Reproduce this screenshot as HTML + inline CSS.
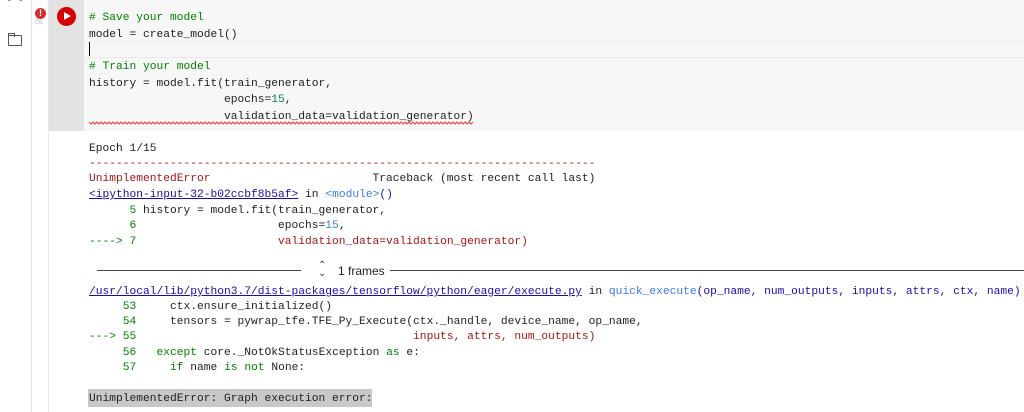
<!DOCTYPE html>
<html><head><meta charset="utf-8"><style>
body{margin:0;width:1024px;height:412px;overflow:hidden;background:#fff;position:relative;font-family:"Liberation Mono",monospace;}
.ab{position:absolute;}
.t{position:absolute;left:89px;font-size:11.25px;white-space:pre;line-height:16px;margin-top:2px;}
.g{color:#008000}.n{color:#098658}.r{color:#a31515}.k{color:#212121}.b{color:#1a0dab;text-decoration:underline}.c{color:#3b78e7}
.o{color:#212121}
</style></head><body>
<div class="ab" style="left:6px;top:-8px;font:10px 'Liberation Mono';color:#777">[x]</div>
<div class="ab" style="left:31px;top:0;width:1px;height:412px;background:#e0e0e0"></div>
<div class="ab" style="left:48px;top:0;width:1px;height:412px;background:#e8e8e8"></div>
<div class="ab" style="left:49px;top:0;width:35px;height:131px;background:#e3e3e3"></div>
<div class="ab" style="left:84px;top:0;width:940px;height:131px;background:#f7f7f7"></div>
<div class="ab" style="left:84px;top:41px;width:940px;height:15px;border-top:1px solid #ececec;border-bottom:1px solid #e8e8e8"></div>
<div class="ab" style="left:89px;top:42px;width:1px;height:14px;background:#000"></div>
<div class="ab" style="left:35px;top:8px;width:11px;height:11px;border-radius:50%;background:#d32f2f;color:#fff;font:bold 9px 'Liberation Sans';text-align:center;line-height:11px">!</div>
<div class="ab" style="left:35px;top:19px;font:7px 'Liberation Sans';color:#bbb">0s</div>
<div class="ab" style="left:57px;top:7px;width:19px;height:19px;border-radius:50%;background:#d50000"></div>
<div class="ab" style="left:64px;top:12px;width:0;height:0;border-left:7px solid #fff;border-top:4.5px solid transparent;border-bottom:4.5px solid transparent"></div>
<div class="ab" style="left:8px;top:35px;width:12px;height:9px;border:1.5px solid #555;border-radius:1px"></div>
<div class="ab" style="left:8px;top:33px;width:5px;height:3px;border:1.5px solid #555;border-bottom:none"></div>
<div class="t g" style="top:8px"># Save your model</div>
<div class="t k" style="top:25px">model = create_model()</div>
<div class="t g" style="top:57px"># Train your model</div>
<div class="t k" style="top:74px">history = model.fit(train_generator,</div>
<div class="t k" style="top:90px">                    epochs=<span class="n">15</span>,</div>
<div class="t k" style="top:107px">                    validation_data=validation_generator)</div>
<svg class="ab" style="left:89px;top:121px" width="385" height="4"><polyline fill="none" stroke="#e53935" stroke-width="1" points="0,1 2,3 4,1 6,3 8,1 10,3 12,1 14,3 16,1 18,3 20,1 22,3 24,1 26,3 28,1 30,3 32,1 34,3 36,1 38,3 40,1 42,3 44,1 46,3 48,1 50,3 52,1 54,3 56,1 58,3 60,1 62,3 64,1 66,3 68,1 70,3 72,1 74,3 76,1 78,3 80,1 82,3 84,1 86,3 88,1 90,3 92,1 94,3 96,1 98,3 100,1 102,3 104,1 106,3 108,1 110,3 112,1 114,3 116,1 118,3 120,1 122,3 124,1 126,3 128,1 130,3 132,1 134,3 136,1 138,3 140,1 142,3 144,1 146,3 148,1 150,3 152,1 154,3 156,1 158,3 160,1 162,3 164,1 166,3 168,1 170,3 172,1 174,3 176,1 178,3 180,1 182,3 184,1 186,3 188,1 190,3 192,1 194,3 196,1 198,3 200,1 202,3 204,1 206,3 208,1 210,3 212,1 214,3 216,1 218,3 220,1 222,3 224,1 226,3 228,1 230,3 232,1 234,3 236,1 238,3 240,1 242,3 244,1 246,3 248,1 250,3 252,1 254,3 256,1 258,3 260,1 262,3 264,1 266,3 268,1 270,3 272,1 274,3 276,1 278,3 280,1 282,3 284,1 286,3 288,1 290,3 292,1 294,3 296,1 298,3 300,1 302,3 304,1 306,3 308,1 310,3 312,1 314,3 316,1 318,3 320,1 322,3 324,1 326,3 328,1 330,3 332,1 334,3 336,1 338,3 340,1 342,3 344,1 346,3 348,1 350,3 352,1 354,3 356,1 358,3 360,1 362,3 364,1 366,3 368,1 370,3 372,1 374,3 376,1 378,3 380,1 382,3 384,1"/></svg>
<div class="t o" style="top:139px">Epoch 1/15</div>
<div class="t r" style="top:154px">---------------------------------------------------------------------------</div>
<div class="t r" style="top:169px">UnimplementedError                        <span class="o">Traceback (most recent call last)</span></div>
<div class="t o" style="top:185px"><span class="b">&lt;ipython-input-32-b02ccbf8b5af&gt;</span> in <span class="c">&lt;module&gt;</span><span style="color:#1a0dab">()</span></div>
<div class="t o" style="top:201px"><span class="g">      5</span> history = model.fit(train_generator,</div>
<div class="t o" style="top:216px"><span class="g">      6</span>                     epochs=<span class="c">15</span>,</div>
<div class="t o" style="top:232px"><span class="g">----&gt; 7</span><span class="r">                     validation_data=validation_generator)</span></div>
<div class="ab" style="left:97px;top:270px;width:204px;height:1px;background:#444"></div>
<div class="ab" style="left:318px;top:262px;font:10px 'Liberation Sans';color:#444;line-height:8px">⌃<br>⌄</div>
<div class="ab" style="left:338px;top:264px;font:12px 'Liberation Sans';color:#212121">1 frames</div>
<div class="ab" style="left:390px;top:270px;width:634px;height:1px;background:#444"></div>
<div class="t o" style="top:282px"><span class="b">/usr/local/lib/python3.7/dist-packages/tensorflow/python/eager/execute.py</span> in <span class="c">quick_execute</span><span style="color:#1a0dab">(op_name, num_outputs, inputs, attrs, ctx, name)</span></div>
<div class="t o" style="top:297px"><span class="g">     53</span>     ctx.ensure_initialized()</div>
<div class="t o" style="top:312px"><span class="g">     54</span>     tensors = pywrap_tfe.TFE_Py_Execute(ctx._handle, device_name, op_name,</div>
<div class="t o" style="top:327px"><span class="g">---&gt; 55</span><span class="r">                                         inputs, attrs, num_outputs)</span></div>
<div class="t o" style="top:343px"><span class="g">     56</span>   <span class="g">except</span> core._NotOkStatusException <span class="g">as</span> e:</div>
<div class="t o" style="top:358px"><span class="g">     57</span>     <span class="g">if</span> name <span class="g">is</span> <span class="g">not</span> None:</div>
<div class="ab" style="left:88px;top:389px;width:284px;height:18px;background:#c8c8c8"></div>
<div class="t o" style="top:389px">UnimplementedError: Graph execution error:</div>
</body></html>
